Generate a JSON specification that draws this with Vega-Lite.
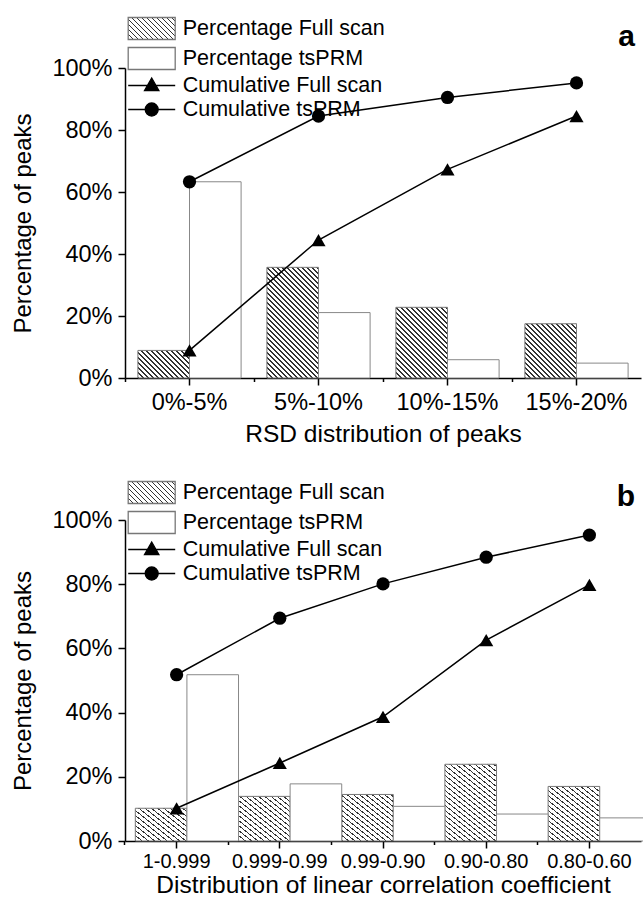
{
  "$schema": "https://vega.github.io/schema/vega-lite/v6.json",
  "background": "white",
  "padding": {"left": 11, "top": 17, "right": 4, "bottom": 2},
  "params": [
    {"name": "hs", "value": [
      {"offset":0,"color":"#333"},{"offset":0.006,"color":"#333"},{"offset":0.006,"color":"#fff"},{"offset":0.025,"color":"#fff"},
      {"offset":0.025,"color":"#333"},{"offset":0.031,"color":"#333"},{"offset":0.031,"color":"#fff"},{"offset":0.05,"color":"#fff"},
      {"offset":0.05,"color":"#333"},{"offset":0.056,"color":"#333"},{"offset":0.056,"color":"#fff"},{"offset":0.075,"color":"#fff"},
      {"offset":0.075,"color":"#333"},{"offset":0.081,"color":"#333"},{"offset":0.081,"color":"#fff"},{"offset":0.1,"color":"#fff"},
      {"offset":0.1,"color":"#333"},{"offset":0.106,"color":"#333"},{"offset":0.106,"color":"#fff"},{"offset":0.125,"color":"#fff"},
      {"offset":0.125,"color":"#333"},{"offset":0.131,"color":"#333"},{"offset":0.131,"color":"#fff"},{"offset":0.15,"color":"#fff"},
      {"offset":0.15,"color":"#333"},{"offset":0.156,"color":"#333"},{"offset":0.156,"color":"#fff"},{"offset":0.175,"color":"#fff"},
      {"offset":0.175,"color":"#333"},{"offset":0.181,"color":"#333"},{"offset":0.181,"color":"#fff"},{"offset":0.2,"color":"#fff"},
      {"offset":0.2,"color":"#333"},{"offset":0.206,"color":"#333"},{"offset":0.206,"color":"#fff"},{"offset":0.225,"color":"#fff"},
      {"offset":0.225,"color":"#333"},{"offset":0.231,"color":"#333"},{"offset":0.231,"color":"#fff"},{"offset":0.25,"color":"#fff"},
      {"offset":0.25,"color":"#333"},{"offset":0.256,"color":"#333"},{"offset":0.256,"color":"#fff"},{"offset":0.275,"color":"#fff"},
      {"offset":0.275,"color":"#333"},{"offset":0.281,"color":"#333"},{"offset":0.281,"color":"#fff"},{"offset":0.3,"color":"#fff"},
      {"offset":0.3,"color":"#333"},{"offset":0.306,"color":"#333"},{"offset":0.306,"color":"#fff"},{"offset":0.325,"color":"#fff"},
      {"offset":0.325,"color":"#333"},{"offset":0.331,"color":"#333"},{"offset":0.331,"color":"#fff"},{"offset":0.35,"color":"#fff"},
      {"offset":0.35,"color":"#333"},{"offset":0.356,"color":"#333"},{"offset":0.356,"color":"#fff"},{"offset":0.375,"color":"#fff"},
      {"offset":0.375,"color":"#333"},{"offset":0.381,"color":"#333"},{"offset":0.381,"color":"#fff"},{"offset":0.4,"color":"#fff"},
      {"offset":0.4,"color":"#333"},{"offset":0.406,"color":"#333"},{"offset":0.406,"color":"#fff"},{"offset":0.425,"color":"#fff"},
      {"offset":0.425,"color":"#333"},{"offset":0.431,"color":"#333"},{"offset":0.431,"color":"#fff"},{"offset":0.45,"color":"#fff"},
      {"offset":0.45,"color":"#333"},{"offset":0.456,"color":"#333"},{"offset":0.456,"color":"#fff"},{"offset":0.475,"color":"#fff"},
      {"offset":0.475,"color":"#333"},{"offset":0.481,"color":"#333"},{"offset":0.481,"color":"#fff"},{"offset":0.5,"color":"#fff"},
      {"offset":0.5,"color":"#333"},{"offset":0.506,"color":"#333"},{"offset":0.506,"color":"#fff"},{"offset":0.525,"color":"#fff"},
      {"offset":0.525,"color":"#333"},{"offset":0.531,"color":"#333"},{"offset":0.531,"color":"#fff"},{"offset":0.55,"color":"#fff"},
      {"offset":0.55,"color":"#333"},{"offset":0.556,"color":"#333"},{"offset":0.556,"color":"#fff"},{"offset":0.575,"color":"#fff"},
      {"offset":0.575,"color":"#333"},{"offset":0.581,"color":"#333"},{"offset":0.581,"color":"#fff"},{"offset":0.6,"color":"#fff"},
      {"offset":0.6,"color":"#333"},{"offset":0.606,"color":"#333"},{"offset":0.606,"color":"#fff"},{"offset":0.625,"color":"#fff"},
      {"offset":0.625,"color":"#333"},{"offset":0.631,"color":"#333"},{"offset":0.631,"color":"#fff"},{"offset":0.65,"color":"#fff"},
      {"offset":0.65,"color":"#333"},{"offset":0.656,"color":"#333"},{"offset":0.656,"color":"#fff"},{"offset":0.675,"color":"#fff"},
      {"offset":0.675,"color":"#333"},{"offset":0.681,"color":"#333"},{"offset":0.681,"color":"#fff"},{"offset":0.7,"color":"#fff"},
      {"offset":0.7,"color":"#333"},{"offset":0.706,"color":"#333"},{"offset":0.706,"color":"#fff"},{"offset":0.725,"color":"#fff"},
      {"offset":0.725,"color":"#333"},{"offset":0.731,"color":"#333"},{"offset":0.731,"color":"#fff"},{"offset":0.75,"color":"#fff"},
      {"offset":0.75,"color":"#333"},{"offset":0.756,"color":"#333"},{"offset":0.756,"color":"#fff"},{"offset":0.775,"color":"#fff"},
      {"offset":0.775,"color":"#333"},{"offset":0.781,"color":"#333"},{"offset":0.781,"color":"#fff"},{"offset":0.8,"color":"#fff"},
      {"offset":0.8,"color":"#333"},{"offset":0.806,"color":"#333"},{"offset":0.806,"color":"#fff"},{"offset":0.825,"color":"#fff"},
      {"offset":0.825,"color":"#333"},{"offset":0.831,"color":"#333"},{"offset":0.831,"color":"#fff"},{"offset":0.85,"color":"#fff"},
      {"offset":0.85,"color":"#333"},{"offset":0.856,"color":"#333"},{"offset":0.856,"color":"#fff"},{"offset":1,"color":"#fff"}
    ]}
  ],
  "config": {
    "font": "Liberation Sans",
    "view": {"stroke": null},
    "axis": {"domainColor": "black", "domainWidth": 1.5, "tickColor": "black", "tickWidth": 1.5, "labelColor": "black", "titleColor": "black", "titleFontWeight": "normal", "grid": false},
    "legend": {"symbolOpacity": 1}
  },
  "bounds": "flush",
  "spacing": 142,
  "resolve": {"scale": {"fill": "independent", "shape": "independent", "stroke": "independent"}, "legend": {"fill": "independent", "shape": "independent", "stroke": "independent"}},
  "vconcat": [
    {
      "width": 516,
      "height": 310,
      "title": {"text": "a", "anchor": "end", "orient": "top", "frame": "group", "fontSize": 30, "fontWeight": "bold", "baseline": "alphabetic", "offset": -58.5, "dx": -6, "color": "black"},
      "data": {"values": [
        {"cat": "0%-5%", "series": "Percentage Full scan", "value": 8.9},
        {"cat": "5%-10%", "series": "Percentage Full scan", "value": 35.7},
        {"cat": "10%-15%", "series": "Percentage Full scan", "value": 22.8},
        {"cat": "15%-20%", "series": "Percentage Full scan", "value": 17.5},
        {"cat": "0%-5%", "series": "Percentage tsPRM", "value": 63.3},
        {"cat": "5%-10%", "series": "Percentage tsPRM", "value": 21.1},
        {"cat": "10%-15%", "series": "Percentage tsPRM", "value": 5.9},
        {"cat": "15%-20%", "series": "Percentage tsPRM", "value": 4.8},
        {"cat": "0%-5%", "series": "Cumulative Full scan", "value": 8.9},
        {"cat": "5%-10%", "series": "Cumulative Full scan", "value": 44.5},
        {"cat": "10%-15%", "series": "Cumulative Full scan", "value": 67.3},
        {"cat": "15%-20%", "series": "Cumulative Full scan", "value": 84.5},
        {"cat": "0%-5%", "series": "Cumulative tsPRM", "value": 63.3},
        {"cat": "5%-10%", "series": "Cumulative tsPRM", "value": 84.5},
        {"cat": "10%-15%", "series": "Cumulative tsPRM", "value": 90.5},
        {"cat": "15%-20%", "series": "Cumulative tsPRM", "value": 95.2}
      ]},
      "resolve": {"axis": {"x": "independent"}},
      "layer": [
        {
          "transform": [{"filter": "datum.series == 'Percentage Full scan'"}],
          "mark": {"type": "bar", "stroke": "#777", "strokeWidth": 1,
                   "fill": {"expr": "{gradient:'linear',x1:0,y1:1,x2:10320/(2662.56+pow(3.1*datum.value,2)),y2:1-620*datum.value/(2662.56+pow(3.1*datum.value,2)),stops:hs}"}},
          "encoding": {
            "x": {"field": "cat", "type": "nominal", "sort": ["0%-5%", "5%-10%", "10%-15%", "15%-20%"],
                  "scale": {"paddingInner": 0.2, "paddingOuter": 0.1},
                  "axis": {"orient": "bottom", "title": "RSD distribution of peaks", "labelAngle": 0, "labelFontSize": 23.5, "labelPadding": 5, "tickSize": 7, "titleFontSize": 24.5, "titlePadding": 9}},
            "xOffset": {"field": "series", "type": "nominal", "scale": {"domain": ["Percentage Full scan", "Percentage tsPRM"]}},
            "y": {"field": "value", "type": "quantitative", "stack": null, "scale": {"domain": [0, 100], "nice": false},
                  "axis": {"title": "Percentage of peaks", "values": [0,10,20,30,40,50,60,70,80,90,100],
                           "labelExpr": "datum.value % 20 == 0 ? datum.value + '%' : ''",
                           "tickSize": {"condition": {"test": "datum.value % 20 != 0", "value": 3.5}, "value": 7},
                           "labelFontSize": 23.5, "labelPadding": 6, "titleFontSize": 24, "titlePadding": 16}}
          }
        },
        {
          "transform": [{"filter": "datum.series == 'Percentage tsPRM'"}],
          "mark": {"type": "bar", "fill": "white", "stroke": "#888", "strokeWidth": 1},
          "encoding": {
            "x": {"field": "cat", "type": "nominal", "sort": ["0%-5%", "5%-10%", "10%-15%", "15%-20%"], "axis": null},
            "xOffset": {"field": "series", "type": "nominal", "scale": {"domain": ["Percentage Full scan", "Percentage tsPRM"]}},
            "y": {"field": "value", "type": "quantitative", "stack": null}
          }
        },
        {
          "transform": [{"filter": "indexof(datum.series, 'Cumulative') == 0"}],
          "mark": {"type": "line", "color": "black", "strokeWidth": 1.5},
          "encoding": {
            "x": {"field": "cat", "type": "nominal", "sort": ["0%-5%", "5%-10%", "10%-15%", "15%-20%"],
                  "axis": {"orient": "bottom", "title": null, "labels": false, "domain": false, "tickSize": 3.5, "bandPosition": -0.125}},
            "y": {"field": "value", "type": "quantitative"},
            "detail": {"field": "series", "type": "nominal"}
          }
        },
        {
          "transform": [{"filter": "datum.series == 'Cumulative Full scan'"}],
          "mark": {"type": "point", "shape": "triangle-up", "filled": true, "color": "black", "opacity": 1, "strokeWidth": 0, "size": 200},
          "encoding": {
            "x": {"field": "cat", "type": "nominal", "sort": ["0%-5%", "5%-10%", "10%-15%", "15%-20%"], "axis": null},
            "y": {"field": "value", "type": "quantitative"}
          }
        },
        {
          "transform": [{"filter": "datum.series == 'Cumulative tsPRM'"}],
          "mark": {"type": "point", "shape": "circle", "filled": true, "color": "black", "opacity": 1, "strokeWidth": 0, "size": 175},
          "encoding": {
            "x": {"field": "cat", "type": "nominal", "sort": ["0%-5%", "5%-10%", "10%-15%", "15%-20%"], "axis": null},
            "y": {"field": "value", "type": "quantitative"}
          }
        },
        {
          "mark": {"type": "point", "filled": true, "opacity": 0},
          "encoding": {
            "x": {"field": "cat", "type": "nominal", "sort": ["0%-5%", "5%-10%", "10%-15%", "15%-20%"], "axis": null},
            "y": {"field": "value", "type": "quantitative"},
            "shape": {"field": "series", "type": "nominal",
                      "scale": {"domain": ["Percentage Full scan", "Percentage tsPRM", "Cumulative Full scan", "Cumulative tsPRM"],
                                "range": ["M-2.35,-1.1H2.35V1.1H-2.35Z", "M-2.35,-1.1H2.35V1.1H-2.35Z", "M-2.35,0H2.35M0,-0.75L0.72,0.5L-0.72,0.5Z", "M-2.35,0H2.35M0.65,0A0.65,0.65,0,1,1,-0.65,0A0.65,0.65,0,1,1,0.65,0Z"]},
                      "legend": {"orient": "none", "legendX": 15.7, "legendY": -50.5, "title": null, "padding": 0, "labelFontSize": 21.5, "labelFont": "Liberation Sans", "labelColor": "black", "labelLimit": 0, "labelOffset": 20, "rowPadding": 2, "symbolSize": 400, "symbolStrokeWidth": 1.3, "symbolOffset": 0, "symbolOpacity": 1}},
            "fill": {"field": "series", "type": "nominal",
                     "scale": {"domain": ["Percentage Full scan", "Percentage tsPRM", "Cumulative Full scan", "Cumulative tsPRM"],
                               "range": [{"expr": "{gradient:'linear',x1:0,y1:1,x2:3.4906,y2:-0.6339,stops:hs}"}, "white", "black", "black"]},
                     "legend": {"orient": "none", "legendX": 15.7, "legendY": -50.5, "title": null, "padding": 0, "labelFontSize": 21.5, "labelFont": "Liberation Sans", "labelColor": "black", "labelLimit": 0, "labelOffset": 20, "rowPadding": 2, "symbolSize": 400, "symbolStrokeWidth": 1.3, "symbolOffset": 0, "symbolOpacity": 1}},
            "stroke": {"field": "series", "type": "nominal",
                       "scale": {"domain": ["Percentage Full scan", "Percentage tsPRM", "Cumulative Full scan", "Cumulative tsPRM"],
                                 "range": ["#777", "#777", "black", "black"]},
                       "legend": {"orient": "none", "legendX": 15.7, "legendY": -50.5, "title": null, "padding": 0, "labelFontSize": 21.5, "labelFont": "Liberation Sans", "labelColor": "black", "labelLimit": 0, "labelOffset": 20, "rowPadding": 2, "symbolSize": 400, "symbolStrokeWidth": 1.3, "symbolOffset": 0, "symbolOpacity": 1}}
          }
        }
      ]
    },
    {
      "width": 516,
      "height": 321,
      "title": {"text": "b", "anchor": "end", "orient": "top", "frame": "group", "fontSize": 30, "fontWeight": "bold", "baseline": "alphabetic", "offset": -54.5, "dx": -6, "color": "black"},
      "data": {"values": [
        {"cat": "1-0.999", "series": "Percentage Full scan", "value": 10.2},
        {"cat": "0.999-0.99", "series": "Percentage Full scan", "value": 13.9},
        {"cat": "0.99-0.90", "series": "Percentage Full scan", "value": 14.5},
        {"cat": "0.90-0.80", "series": "Percentage Full scan", "value": 23.9},
        {"cat": "0.80-0.60", "series": "Percentage Full scan", "value": 17.0},
        {"cat": "1-0.999", "series": "Percentage tsPRM", "value": 51.8},
        {"cat": "0.999-0.99", "series": "Percentage tsPRM", "value": 17.8},
        {"cat": "0.99-0.90", "series": "Percentage tsPRM", "value": 10.8},
        {"cat": "0.90-0.80", "series": "Percentage tsPRM", "value": 8.4},
        {"cat": "0.80-0.60", "series": "Percentage tsPRM", "value": 7.2},
        {"cat": "1-0.999", "series": "Cumulative Full scan", "value": 10.2},
        {"cat": "0.999-0.99", "series": "Cumulative Full scan", "value": 24.3},
        {"cat": "0.99-0.90", "series": "Cumulative Full scan", "value": 38.7},
        {"cat": "0.90-0.80", "series": "Cumulative Full scan", "value": 62.6},
        {"cat": "0.80-0.60", "series": "Cumulative Full scan", "value": 79.8},
        {"cat": "1-0.999", "series": "Cumulative tsPRM", "value": 51.8},
        {"cat": "0.999-0.99", "series": "Cumulative tsPRM", "value": 69.4},
        {"cat": "0.99-0.90", "series": "Cumulative tsPRM", "value": 80.1},
        {"cat": "0.90-0.80", "series": "Cumulative tsPRM", "value": 88.4},
        {"cat": "0.80-0.60", "series": "Cumulative tsPRM", "value": 95.3}
      ]},
      "resolve": {"axis": {"x": "independent"}},
      "layer": [
        {
          "transform": [{"filter": "datum.series == 'Percentage Full scan'"}],
          "mark": {"type": "bar", "stroke": "#777", "strokeWidth": 1,
                   "fill": {"expr": "{gradient:'linear',x1:0,y1:1,x2:8256/(1704.04+pow(3.21*datum.value,2)),y2:1-642*datum.value/(1704.04+pow(3.21*datum.value,2)),stops:hs}"}},
          "encoding": {
            "x": {"field": "cat", "type": "nominal", "sort": ["1-0.999", "0.999-0.99", "0.99-0.90", "0.90-0.80", "0.80-0.60"],
                  "scale": {"paddingInner": 0.2, "paddingOuter": 0.1},
                  "axis": {"orient": "bottom", "title": "Distribution of linear correlation coefficient", "labelAngle": 0, "labelFontSize": 20, "labelPadding": 3, "tickSize": 7, "titleFontSize": 24.5, "titlePadding": 2}},
            "xOffset": {"field": "series", "type": "nominal", "scale": {"domain": ["Percentage Full scan", "Percentage tsPRM"]}},
            "y": {"field": "value", "type": "quantitative", "stack": null, "scale": {"domain": [0, 100], "nice": false},
                  "axis": {"title": "Percentage of peaks", "values": [0,10,20,30,40,50,60,70,80,90,100],
                           "labelExpr": "datum.value % 20 == 0 ? datum.value + '%' : ''",
                           "tickSize": {"condition": {"test": "datum.value % 20 != 0", "value": 3.5}, "value": 7},
                           "labelFontSize": 23.5, "labelPadding": 6, "titleFontSize": 24, "titlePadding": 16}}
          }
        },
        {
          "transform": [{"filter": "datum.series == 'Percentage tsPRM'"}],
          "mark": {"type": "bar", "fill": "white", "stroke": "#888", "strokeWidth": 1},
          "encoding": {
            "x": {"field": "cat", "type": "nominal", "sort": ["1-0.999", "0.999-0.99", "0.99-0.90", "0.90-0.80", "0.80-0.60"], "axis": null},
            "xOffset": {"field": "series", "type": "nominal", "scale": {"domain": ["Percentage Full scan", "Percentage tsPRM"]}},
            "y": {"field": "value", "type": "quantitative", "stack": null}
          }
        },
        {
          "transform": [{"filter": "indexof(datum.series, 'Cumulative') == 0"}],
          "mark": {"type": "line", "color": "black", "strokeWidth": 1.5},
          "encoding": {
            "x": {"field": "cat", "type": "nominal", "sort": ["1-0.999", "0.999-0.99", "0.99-0.90", "0.90-0.80", "0.80-0.60"],
                  "axis": {"orient": "bottom", "title": null, "labels": false, "domain": false, "tickSize": 3.5, "bandPosition": -0.125}},
            "y": {"field": "value", "type": "quantitative"},
            "detail": {"field": "series", "type": "nominal"}
          }
        },
        {
          "transform": [{"filter": "datum.series == 'Cumulative Full scan'"}],
          "mark": {"type": "point", "shape": "triangle-up", "filled": true, "color": "black", "opacity": 1, "strokeWidth": 0, "size": 200},
          "encoding": {
            "x": {"field": "cat", "type": "nominal", "sort": ["1-0.999", "0.999-0.99", "0.99-0.90", "0.90-0.80", "0.80-0.60"], "axis": null},
            "y": {"field": "value", "type": "quantitative"}
          }
        },
        {
          "transform": [{"filter": "datum.series == 'Cumulative tsPRM'"}],
          "mark": {"type": "point", "shape": "circle", "filled": true, "color": "black", "opacity": 1, "strokeWidth": 0, "size": 175},
          "encoding": {
            "x": {"field": "cat", "type": "nominal", "sort": ["1-0.999", "0.999-0.99", "0.99-0.90", "0.90-0.80", "0.80-0.60"], "axis": null},
            "y": {"field": "value", "type": "quantitative"}
          }
        },
        {
          "mark": {"type": "point", "filled": true, "opacity": 0},
          "encoding": {
            "x": {"field": "cat", "type": "nominal", "sort": ["1-0.999", "0.999-0.99", "0.99-0.90", "0.90-0.80", "0.80-0.60"], "axis": null},
            "y": {"field": "value", "type": "quantitative"},
            "shape": {"field": "series", "type": "nominal",
                      "scale": {"domain": ["Percentage Full scan", "Percentage tsPRM", "Cumulative Full scan", "Cumulative tsPRM"],
                                "range": ["M-2.35,-1.1H2.35V1.1H-2.35Z", "M-2.35,-1.1H2.35V1.1H-2.35Z", "M-2.35,0H2.35M0,-0.75L0.72,0.5L-0.72,0.5Z", "M-2.35,0H2.35M0.65,0A0.65,0.65,0,1,1,-0.65,0A0.65,0.65,0,1,1,0.65,0Z"]},
                      "legend": {"orient": "none", "legendX": 15.7, "legendY": -38.5, "title": null, "padding": 0, "labelFontSize": 21.5, "labelFont": "Liberation Sans", "labelColor": "black", "labelLimit": 0, "labelOffset": 20, "rowPadding": 2, "symbolSize": 400, "symbolStrokeWidth": 1.3, "symbolOffset": 0, "symbolOpacity": 1}},
            "fill": {"field": "series", "type": "nominal",
                     "scale": {"domain": ["Percentage Full scan", "Percentage tsPRM", "Cumulative Full scan", "Cumulative tsPRM"],
                               "range": [{"expr": "{gradient:'linear',x1:0,y1:1,x2:3.4906,y2:-0.6339,stops:hs}"}, "white", "black", "black"]},
                     "legend": {"orient": "none", "legendX": 15.7, "legendY": -38.5, "title": null, "padding": 0, "labelFontSize": 21.5, "labelFont": "Liberation Sans", "labelColor": "black", "labelLimit": 0, "labelOffset": 20, "rowPadding": 2, "symbolSize": 400, "symbolStrokeWidth": 1.3, "symbolOffset": 0, "symbolOpacity": 1}},
            "stroke": {"field": "series", "type": "nominal",
                       "scale": {"domain": ["Percentage Full scan", "Percentage tsPRM", "Cumulative Full scan", "Cumulative tsPRM"],
                                 "range": ["#777", "#777", "black", "black"]},
                       "legend": {"orient": "none", "legendX": 15.7, "legendY": -38.5, "title": null, "padding": 0, "labelFontSize": 21.5, "labelFont": "Liberation Sans", "labelColor": "black", "labelLimit": 0, "labelOffset": 20, "rowPadding": 2, "symbolSize": 400, "symbolStrokeWidth": 1.3, "symbolOffset": 0, "symbolOpacity": 1}}
          }
        }
      ]
    }
  ]
}
